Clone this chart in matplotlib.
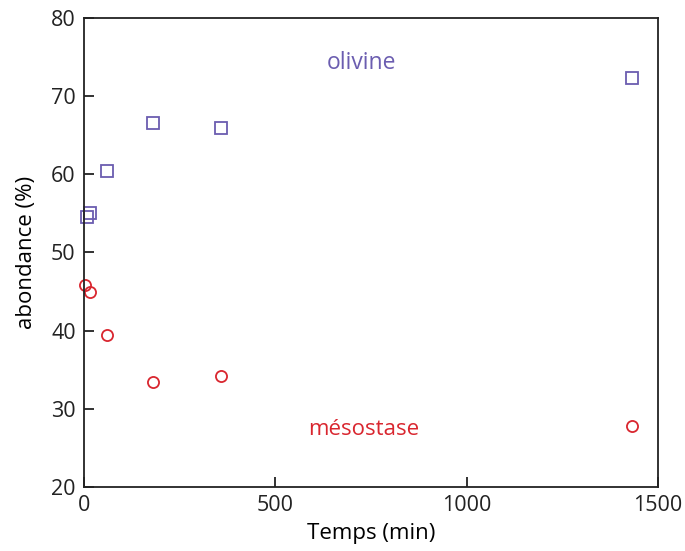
import matplotlib
matplotlib.use("Agg")
import matplotlib.pyplot as plt

# Durée des expériences (min)
t_olivine = [8, 15, 60, 180, 358, 1432]
olivine = [54.6, 55.1, 60.4, 66.6, 65.9, 72.3]

t_meso = [3, 15, 60, 180, 358, 1432]
mesostase = [45.8, 45.0, 39.5, 33.4, 34.2, 27.8]

purple = "#6b5db0"
red = "#d9262f"

plt.rcParams['font.family'] = ['Open Sans', 'DejaVu Sans']

fig = plt.figure(figsize=(6.85, 5.51), dpi=100)
ax = fig.add_axes([0.1226, 0.1162, 0.8380, 0.8511])

ax.plot(t_olivine, olivine, linestyle="none", marker="s", markersize=8.5,
        markerfacecolor="none", markeredgecolor=purple, markeredgewidth=1.3,
        clip_on=False)
ax.plot(t_meso, mesostase, linestyle="none", marker="o", markersize=8,
        markerfacecolor="none", markeredgecolor=red, markeredgewidth=1.3,
        clip_on=False)

ax.text(726, 74.2, "olivine", color=purple, fontsize=16.5, ha="center", va="center")
ax.text(732, 27.3, "mésostase", color=red, fontsize=16, ha="center", va="center")

ax.set_xlim(0, 1500)
ax.set_ylim(20, 80)
ax.set_xticks([0, 500, 1000, 1500])
ax.set_yticks([20, 30, 40, 50, 60, 70, 80])
ax.tick_params(direction="in", length=7, width=1.3, labelsize=15.5, pad=6,
               top=False, right=False, colors="#222222")
for s in ax.spines.values():
    s.set_linewidth(1.3)
    s.set_color("#222222")

ax.set_xlabel("Temps (min)", fontsize=16, labelpad=5)
ax.set_ylabel("abondance (%)", fontsize=16, labelpad=10)

fig.savefig("out.png", dpi=100)
